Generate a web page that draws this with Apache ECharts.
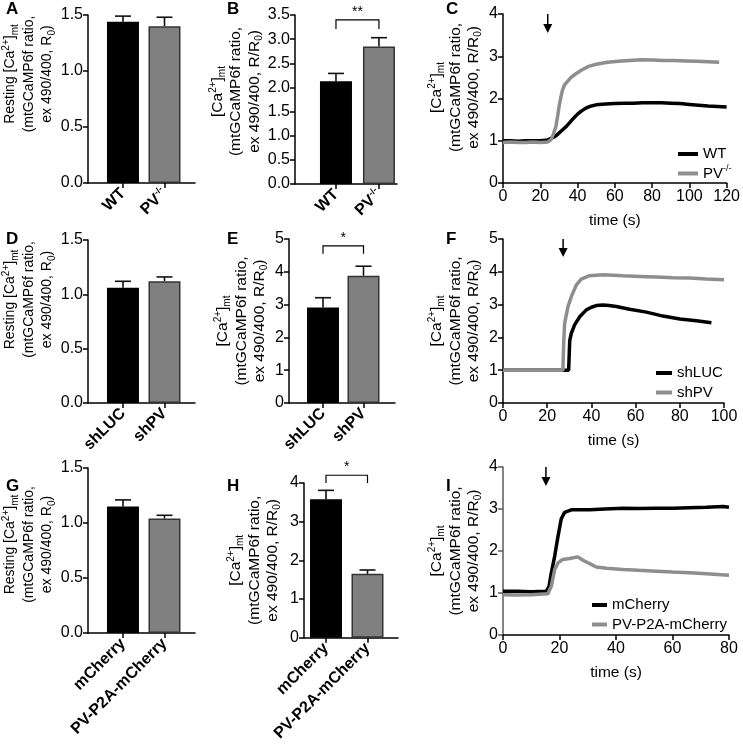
<!DOCTYPE html>
<html><head><meta charset="utf-8">
<script src="https://cdn.jsdelivr.net/npm/echarts@6/dist/echarts.min.js"></script>
<style>html,body{margin:0;padding:0;background:#fff}#c{width:743px;height:744px}</style>
</head><body><div id="c"></div>
<script>
// ---------- DATA ----------
const catsA = ['WT', 'PV-/-'];
const valsA = [1.44, 1.40];
const errsA = [1.49, 1.48];

const catsB = ['WT', 'PV-/-'];
const valsB = [2.13, 2.85];
const errsB = [2.29, 3.03];

const catsD = ['shLUC', 'shPV'];
const valsD = [1.06, 1.12];
const errsD = [1.12, 1.16];

const catsE = ['shLUC', 'shPV'];
const valsE = [2.91, 3.88];
const errsE = [3.21, 4.17];

const catsG = ['mCherry', 'PV-P2A-mCherry'];
const valsG = [1.15, 1.04];
const errsG = [1.21, 1.07];

const catsH = ['mCherry', 'PV-P2A-mCherry'];
const valsH = [3.58, 1.65];
const errsH = [3.81, 1.75];

// significance brackets: [x1, x2, top, legBottom]
const sigB = [[1, 2, 3.40, 3.21]]; const sigBLabel = ['**'];
const sigE = [[1, 2, 4.79, 4.55]]; const sigELabel = ['*'];
const sigH = [[1, 2, 4.20, 4.00]]; const sigHLabel = ['*'];

// stimulus arrows: [time, top, tip]
const arrowC = [[24, 4.0, 3.55]];
const arrowF = [[27.2, 5.0, 4.45]];
const arrowI = [[15.2, 4.0, 3.55]];

// traces [time (s), ratio]
const traceC_WT = [[0,1.0],[4,1.0],[8,0.99],[12,1.0],[16,1.0],[20,1.0],[24,1.02],[26,1.06],[28,1.1],[30,1.18],[32,1.26],[34,1.34],[36,1.44],[38,1.54],[40,1.63],[42,1.7],[44,1.76],[46,1.8],[48,1.83],[50,1.85],[55,1.87],[60,1.88],[65,1.89],[70,1.89],[75,1.9],[80,1.9],[85,1.9],[90,1.89],[95,1.88],[100,1.86],[105,1.84],[110,1.82],[115,1.81],[120,1.80]];
const traceC_PV = [[0,0.96],[4,0.97],[8,0.96],[12,0.96],[16,0.97],[20,0.96],[24,0.97],[25.7,1.02],[27,1.15],[28.4,1.34],[29.3,1.58],[30.1,1.81],[31,2.02],[31.9,2.2],[33,2.32],[34.5,2.4],[36.5,2.5],[38.9,2.58],[42,2.67],[45.9,2.76],[50,2.81],[56,2.86],[62,2.88],[68,2.9],[74,2.92],[80,2.91],[86,2.9],[92,2.9],[98,2.89],[104,2.88],[110,2.87],[116,2.86]];
const traceF_LUC = [[0,1.0],[10,1.0],[20,1.0],[29.7,1.0],[30.2,1.9],[30.9,2.12],[32.4,2.38],[34.7,2.63],[37.7,2.84],[40,2.92],[42.2,2.97],[45.2,2.99],[48,2.97],[51.3,2.94],[57.3,2.86],[64.9,2.77],[72.4,2.65],[80,2.56],[87.5,2.51],[94.3,2.45]];
const traceF_PV = [[0,1.0],[10,1.0],[20,1.0],[27.1,1.0],[27.5,1.9],[27.9,2.43],[29.4,2.94],[30.9,3.24],[33.2,3.6],[35.4,3.78],[39.2,3.88],[45.2,3.91],[54.3,3.88],[62,3.86],[69.4,3.84],[77,3.82],[84.5,3.81],[92,3.78],[100,3.76]];
const traceI_mCh = [[0,1.04],[5,1.04],[10,1.03],[15.3,1.04],[16.3,1.16],[17.1,1.48],[18.3,1.88],[19.5,2.36],[20.6,2.76],[21.8,2.92],[24.2,2.98],[30.7,2.98],[36,3.0],[42.5,3.02],[48,3.01],[54.3,3.02],[60,3.02],[66,3.03],[72,3.04],[77.9,3.06],[80,3.04]];
const traceI_PV = [[0,0.96],[5,0.95],[10,0.96],[15.9,0.98],[17.1,1.16],[18.3,1.56],[19.5,1.72],[21.2,1.8],[23.6,1.82],[26.5,1.86],[28.3,1.78],[30.7,1.7],[33,1.62],[36.6,1.59],[42.5,1.56],[48,1.54],[54.3,1.52],[60,1.5],[66,1.48],[72,1.46],[80,1.42]];

const panelLetters = ['A','B','C','D','E','F','G','H','I'];

// ---------- STYLE ----------
const FONT = 'Liberation Sans, Arial, Helvetica, sans-serif';
const BLACK = '#000000';
const GREY = '#808080';
const LINEGREY = '#8e8e8e';

function nameRich(fs, lh) {
  return {
    n: { fontFamily: FONT, fontSize: fs, lineHeight: lh, color: '#000' },
    sup: { fontFamily: FONT, fontSize: 10, lineHeight: 8, verticalAlign: 'top', color: '#000' },
    sub: { fontFamily: FONT, fontSize: 10, lineHeight: 8, verticalAlign: 'bottom', color: '#000' }
  };
}
function yName(resting) {
  const l1 = (resting ? '{n|Resting [Ca}' : '{n|[Ca}') + '{sup|2+}{n|]}{sub|mt}';
  const l3 = resting ? '{n|ex 490/400, R}{sub|0}{n|)}' : '{n|ex 490/400, R/R}{sub|0}{n|)}';
  return l1 + '\n{n|(mtGCaMP6f ratio,}\n' + l3;
}
function catLabel(c) {
  return c === 'PV-/-' ? '{b|PV}{bs|-/-}' : '{b|' + c + '}';
}

// shift = how far the axis title sits above the axis middle (px)
const panels = [
  { kind: 'bar', box: [88, 15, 107, 168], xr: [0.157, 2.735], ymax: 1.5, step: 0.5, dec: 1, cats: catsA, vals: valsA, errs: errsA, resting: true, gap: 11, shift: 25 },
  { kind: 'bar', box: [295, 15, 102, 169], xr: [0.047, 2.42], ymax: 3.5, step: 0.5, dec: 1, cats: catsB, vals: valsB, errs: errsB, resting: false, gap: 20, shift: 8, sig: sigB, sigLabel: sigBLabel },
  { kind: 'line', box: [503, 14, 228, 169], xmax: 120, ymax: 4, traces: [['WT', traceC_WT, BLACK], ['PV-/-', traceC_PV, LINEGREY]], arrow: arrowC, gap: 20, shift: 11, legend: [678, 146, 20] },
  { kind: 'bar', box: [88, 240, 107, 163], xr: [0.157, 2.735], ymax: 1.5, step: 0.5, dec: 1, cats: catsD, vals: valsD, errs: errsD, resting: true, gap: 11, shift: 22 },
  { kind: 'bar', box: [289, 239, 106, 164], xr: [0.16, 2.778], ymax: 5, step: 1, dec: 0, cats: catsE, vals: valsE, errs: errsE, resting: false, gap: 20, shift: 0, sig: sigE, sigLabel: sigELabel },
  { kind: 'line', box: [503, 239, 221, 164], xmax: 100, ymax: 5, traces: [['shLUC', traceF_LUC, BLACK], ['shPV', traceF_PV, LINEGREY]], arrow: arrowF, gap: 20, shift: 0, legend: [656, 365, 16] },
  { kind: 'bar', box: [88, 468, 107, 165], xr: [0.157, 2.735], ymax: 1.5, step: 0.5, dec: 1, cats: catsG, vals: valsG, errs: errsG, resting: true, gap: 11, shift: 6 },
  { kind: 'bar', box: [304, 483, 94, 163], xr: [0.47, 2.735], ymax: 4, step: 1, dec: 0, cats: catsH, vals: valsH, errs: errsH, resting: false, gap: 22, shift: 0, sig: sigH, sigLabel: sigHLabel },
  { kind: 'line', box: [503, 467, 226, 168], xmax: 80, ymax: 4, traces: [['mCherry', traceI_mCh, BLACK], ['PV-P2A-mCherry', traceI_PV, LINEGREY]], arrow: arrowI, gap: 20, shift: 0, legend: [592, 597, 15], yAxisColor: '#5a5a5a' }
];

const grid = [], xAxis = [], yAxis = [], series = [], legend = [];

const axisLineStyle = { color: '#000', width: 1.5 };

panels.forEach((p, i) => {
  grid.push({ left: p.box[0], top: p.box[1], width: p.box[2], height: p.box[3], containLabel: false });
  const isBar = p.kind === 'bar';
  const resting = isBar && p.resting;
  const yLine = { color: p.yAxisColor || '#000', width: 1.5 };
  yAxis.push({
    gridIndex: i, type: 'value', min: 0, max: p.ymax, interval: isBar ? p.step : 1,
    axisLine: { show: true, onZero: false, lineStyle: yLine },
    axisTick: { show: true, length: 5, lineStyle: yLine },
    splitLine: { show: false },
    axisLabel: { color: '#000', fontFamily: FONT, fontSize: 16, margin: 5,
      formatter: v => v.toFixed(isBar ? p.dec : 0) },
    name: yName(resting), nameLocation: 'middle', nameRotate: 90, nameGap: p.gap,
    nameTextStyle: { rich: nameRich(resting ? 14 : 15.5, 18.5), align: 'center', padding: [0, 0, 0, 2 * p.shift] }
  });
  if (isBar) {
    xAxis.push({
      gridIndex: i, type: 'value', min: p.xr[0], max: p.xr[1],
      axisLine: { show: true, onZero: false, lineStyle: axisLineStyle },
      axisTick: { show: true, length: 5, lineStyle: axisLineStyle, customValues: [1, 2] },
      splitLine: { show: false },
      axisLabel: { customValues: [1, 2], rotate: 45, margin: 8, color: '#000',
        formatter: v => catLabel(p.cats[Math.round(v) - 1]),
        rich: {
          b: { fontFamily: FONT, fontWeight: 'bold', fontSize: 16, color: '#000', lineHeight: 18 },
          bs: { fontFamily: FONT, fontWeight: 'bold', fontSize: 9, color: '#000', lineHeight: 8, verticalAlign: 'top' }
        } }
    });
    series.push({
      type: 'bar', name: 'bars ' + panelLetters[i], xAxisIndex: i, yAxisIndex: i, barWidth: 32,
      data: p.vals.map((v, k) => ({ value: [k + 1, v], itemStyle: { color: k === 0 ? BLACK : GREY, borderColor: k === 0 ? '#000' : '#333', borderWidth: 1.5 } }))
    });
    series.push({
      type: 'custom', name: 'sem ' + panelLetters[i], xAxisIndex: i, yAxisIndex: i,
      encode: { x: 0, y: [1, 2] },
      data: p.vals.map((v, k) => [k + 1, v, p.errs[k]]),
      renderItem: (params, api) => {
        const x = api.value(0);
        const a = api.coord([x, api.value(1)]);
        const b = api.coord([x, api.value(2)]);
        const st = { stroke: '#111', lineWidth: 1.6 };
        return { type: 'group', children: [
          { type: 'line', shape: { x1: a[0], y1: a[1], x2: b[0], y2: b[1] }, style: st },
          { type: 'line', shape: { x1: b[0] - 8, y1: b[1], x2: b[0] + 8, y2: b[1] }, style: st }
        ] };
      }
    });
    if (p.sig) {
      series.push({
        type: 'custom', name: 'sig ' + panelLetters[i], xAxisIndex: i, yAxisIndex: i,
        encode: { x: [0, 1], y: [2, 3] }, data: p.sig, clip: false,
        renderItem: (params, api) => {
          const x1 = api.value(0), x2 = api.value(1), top = api.value(2), leg = api.value(3);
          const p1 = api.coord([x1, leg]), p2 = api.coord([x1, top]), p3 = api.coord([x2, top]), p4 = api.coord([x2, leg]);
          return { type: 'group', children: [
            { type: 'polyline', shape: { points: [p1, p2, p3, p4] }, style: { stroke: '#000', lineWidth: 1.2, fill: null } },
            { type: 'text', x: (p2[0] + p3[0]) / 2, y: p2[1] - 1, style: { text: p.sigLabel[params.dataIndex], fontFamily: FONT, fontSize: 14, fill: '#000', align: 'center', verticalAlign: 'bottom' } }
          ] };
        }
      });
    }
  } else {
    xAxis.push({
      gridIndex: i, type: 'value', min: 0, max: p.xmax, interval: 20,
      axisLine: { show: true, onZero: false, lineStyle: axisLineStyle },
      axisTick: { show: true, length: 5, lineStyle: axisLineStyle },
      splitLine: { show: false },
      axisLabel: { color: '#000', fontFamily: FONT, fontSize: 16, margin: 6 },
      name: 'time (s)', nameLocation: 'middle', nameGap: 30,
      nameTextStyle: { color: '#000', fontFamily: FONT, fontSize: 15.5 }
    });
    p.traces.forEach(tr => {
      series.push({
        type: 'line', name: tr[0], xAxisIndex: i, yAxisIndex: i, data: tr[1],
        showSymbol: false, symbol: 'none', lineStyle: { color: tr[2], width: 3.5 }, itemStyle: { color: tr[2] }
      });
    });
    series.push({
      type: 'custom', name: 'stim ' + panelLetters[i], xAxisIndex: i, yAxisIndex: i,
      encode: { x: 0, y: [1, 2] }, data: p.arrow, clip: false,
      renderItem: (params, api) => {
        const x = api.value(0);
        const t = api.coord([x, api.value(1)]), b = api.coord([x, api.value(2)]);
        const hl = 9, hw = 4.5;
        return { type: 'group', children: [
          { type: 'line', shape: { x1: t[0], y1: t[1], x2: b[0], y2: b[1] - hl + 1 }, style: { stroke: '#000', lineWidth: 1.5 } },
          { type: 'polygon', shape: { points: [[b[0] - hw, b[1] - hl], [b[0] + hw, b[1] - hl], [b[0], b[1]]] }, style: { fill: '#000' } }
        ] };
      }
    });
    legend.push({
      data: p.traces.map(tr => tr[0]), orient: 'vertical', left: p.legend[0], top: p.legend[1] - 1,
      padding: 0, icon: 'rect', itemWidth: p.legend[2], itemHeight: 4, itemGap: 1.5, selectedMode: false,
      formatter: n => n === 'PV-/-' ? 'PV{s|-/-}' : n,
      textStyle: { color: '#000', fontFamily: FONT, fontSize: 15, lineHeight: 18,
        rich: { s: { fontFamily: FONT, fontSize: 9, lineHeight: 8, verticalAlign: 'top', color: '#000' } } }
    });
  }
});

const letterPos = [[12, 10], [233, 10], [452, 10], [12, 240], [233, 240], [452, 240], [12, 487], [233, 487], [452, 487]];
const graphic = panelLetters.map((L, i) => ({
  type: 'text', left: letterPos[i][0] - 6, top: letterPos[i][1] - 9,
  style: { text: L, fontFamily: FONT, fontWeight: 'bold', fontSize: 17, fill: '#000' }
}));

const chart = echarts.init(document.getElementById('c'), null, { renderer: 'canvas', width: 743, height: 744 });
chart.setOption({ animation: false, backgroundColor: '#fff', grid, xAxis, yAxis, series, legend, graphic });
</script>
</body></html>
